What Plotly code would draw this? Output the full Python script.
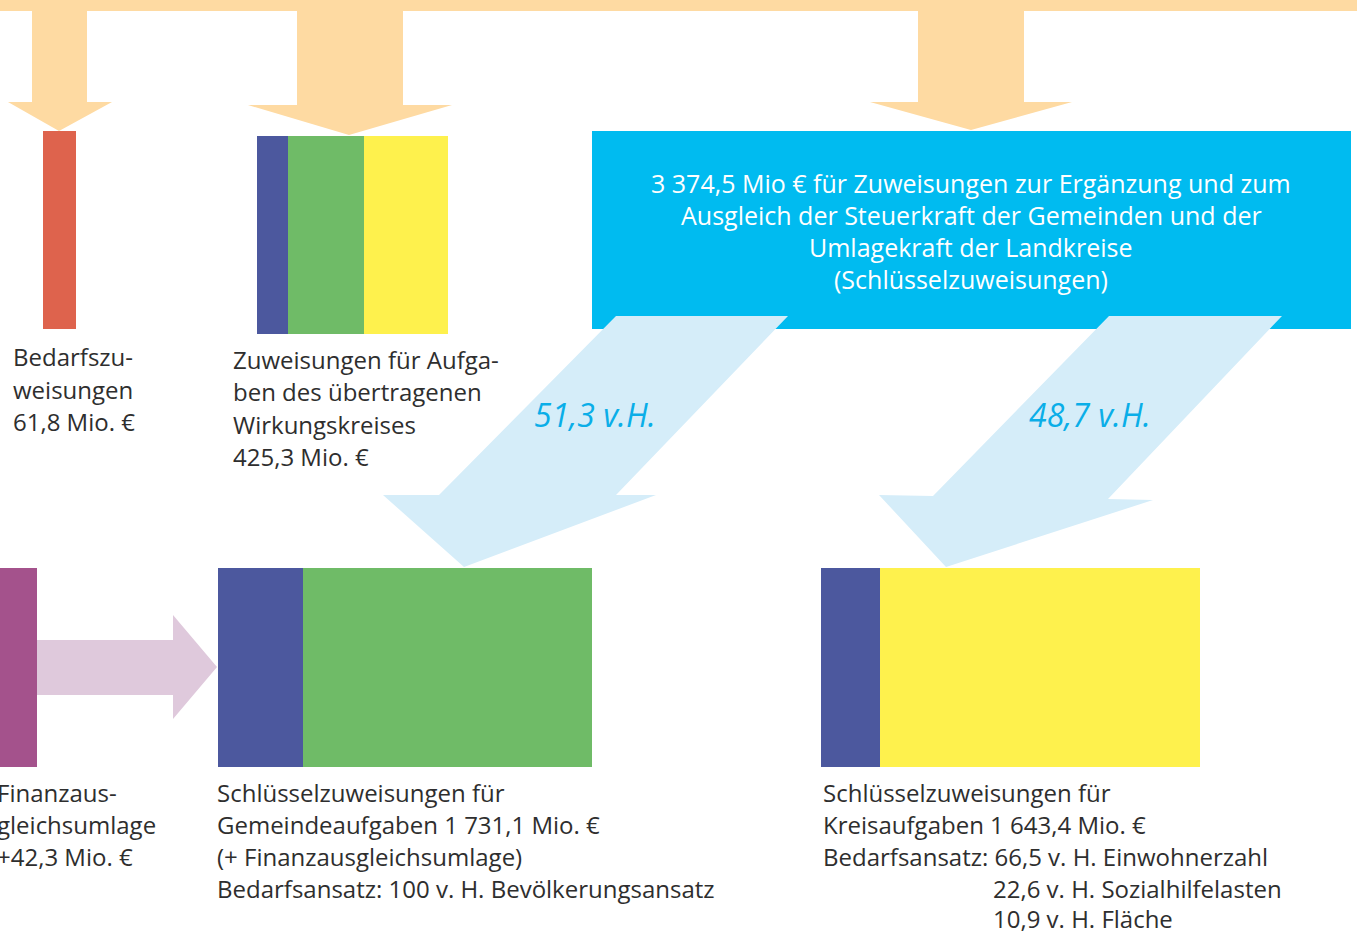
import plotly.graph_objects as go

# ---- data ----
amount_labels = ["Bedarfszuweisungen", "Zuweisungen für Aufgaben des übertragenen Wirkungskreises",
                 "Schlüsselzuweisungen", "Finanzausgleichsumlage",
                 "Schlüsselzuweisungen Gemeindeaufgaben", "Schlüsselzuweisungen Kreisaufgaben"]
amounts = ["61,8", "425,3", "3 374,5", "+42,3", "1 731,1", "1 643,4"]
split_shares = ["51,3", "48,7"]
kreis_ansatz_values = ["66,5", "22,6", "10,9"]
kreis_ansatz_names = ["Einwohnerzahl", "Sozialhilfelasten", "Fläche"]
gemeinde_ansatz = ["100", "Bevölkerungsansatz"]

W, H = 1357, 933
ORANGE = "#FEDAA2"
NAVY = "#4C589E"
GREEN = "#6FBB67"
YELLOW = "#FEF14D"
RED = "#DE634D"
CYAN = "#00BBF0"
LIGHT = "#D5EDF9"
PURPLE = "#A4528C"
PINK = "#DFC9DC"
TXT = "#2E2E2E"
FONT = "Open Sans"
FS = 24

shapes = []


def rect(x0, y0, x1, y1, color):
    shapes.append(dict(type="rect", xref="x", yref="y", x0=x0, y0=y0, x1=x1, y1=y1,
                       fillcolor=color, line=dict(width=0), layer="above"))


def poly(pts, color):
    d = "M " + " L ".join(f"{x},{y}" for x, y in pts) + " Z"
    shapes.append(dict(type="path", xref="x", yref="y", path=d,
                       fillcolor=color, line=dict(width=0), layer="above"))


# top band and downward arrows
rect(0, 0, W, 11, ORANGE)
poly([(32, 10), (87, 10), (87, 102), (112, 102), (59, 131), (8, 102), (32, 102)], ORANGE)
poly([(297, 10), (403, 10), (403, 105), (452, 105), (349, 135), (248, 105), (297, 105)], ORANGE)
poly([(918, 10), (1024, 10), (1024, 102), (1072, 102), (971, 130), (870, 102), (918, 102)], ORANGE)

# upper boxes
rect(43, 131, 76, 329, RED)
rect(257, 136, 288, 334, NAVY)
rect(288, 136, 364, 334, GREEN)
rect(364, 136, 448, 334, YELLOW)
rect(592, 131, 1351, 329, CYAN)

# light blue split arrows
poly([(616, 316), (788, 316), (616, 495), (656, 495), (464, 567), (383, 495), (439, 495)], LIGHT)
poly([(1109, 316), (1282, 316), (1108, 499), (1153, 500), (946, 567), (879, 495), (933, 496)], LIGHT)

# lower boxes
rect(0, 568, 37, 767, PURPLE)
poly([(37, 640), (173, 640), (173, 615), (217, 667), (173, 719), (173, 695), (37, 695)], PINK)
rect(218, 568, 303, 767, NAVY)
rect(303, 568, 592, 767, GREEN)
rect(821, 568, 880, 767, NAVY)
rect(880, 568, 1200, 767, YELLOW)

annotations = []


def txt(x, y, s, anchor="left", color=TXT, size=FS, italic=False):
    t = f"<i>{s}</i>" if italic else s
    annotations.append(dict(xref="paper", yref="paper", x=x / W, y=1 - y / H, text=t,
                            showarrow=False, xanchor=anchor, yanchor="middle",
                            font=dict(family=FONT, size=size, color=color)))


def lines(x, y0, arr, step=32, **kw):
    for i, s in enumerate(arr):
        txt(x, y0 + i * step, s, **kw)


lines(971, 183, [f"{amounts[2]} Mio € für Zuweisungen zur Ergänzung und zum",
                 "Ausgleich der Steuerkraft der Gemeinden und der",
                 "Umlagekraft der Landkreise",
                 "(Schlüsselzuweisungen)"], anchor="center", color="white", size=25)

lines(11, 357, ["Bedarfszu-", "weisungen", f"{amounts[0]} Mio. €"])
lines(231, 360, ["Zuweisungen für Aufga-", "ben des übertragenen", "Wirkungskreises",
                 f"{amounts[1]} Mio. €"])

txt(595, 414, f"{split_shares[0]} v.H.", anchor="center", color="#0AAEE8", size=32, italic=True)
txt(1090, 414, f"{split_shares[1]} v.H.", anchor="center", color="#0AAEE8", size=32, italic=True)

lines(-5, 792, ["Finanzaus-", "gleichsumlage", f"{amounts[3]} Mio. €"])
lines(215, 792, ["Schlüsselzuweisungen für", f"Gemeindeaufgaben {amounts[4]} Mio. €",
                 "(+ Finanzausgleichsumlage)",
                 f"Bedarfsansatz: {gemeinde_ansatz[0]} v. H. {gemeinde_ansatz[1]}"])
lines(821, 792, ["Schlüsselzuweisungen für", f"Kreisaufgaben {amounts[5]} Mio. €",
                 f"Bedarfsansatz: {kreis_ansatz_values[0]} v. H. {kreis_ansatz_names[0]}"])
lines(991, 888, [f"{v} v. H. {n}" for v, n in zip(kreis_ansatz_values[1:], kreis_ansatz_names[1:])],
      step=30)

fig = go.Figure()
fig.add_trace(go.Scatter(x=[0, W], y=[0, H], mode="markers", marker=dict(opacity=0),
                         hoverinfo="skip", showlegend=False))
fig.update_layout(
    width=W, height=H, margin=dict(l=0, r=0, t=0, b=0),
    paper_bgcolor="white", plot_bgcolor="white",
    xaxis=dict(range=[0, W], visible=False, fixedrange=True),
    yaxis=dict(range=[H, 0], visible=False, fixedrange=True),
    shapes=shapes, annotations=annotations, showlegend=False,
)
fig.write_html("out.html", config={"displayModeBar": False},
               post_script="document.body.style.margin='0';document.body.style.overflow='hidden';")
